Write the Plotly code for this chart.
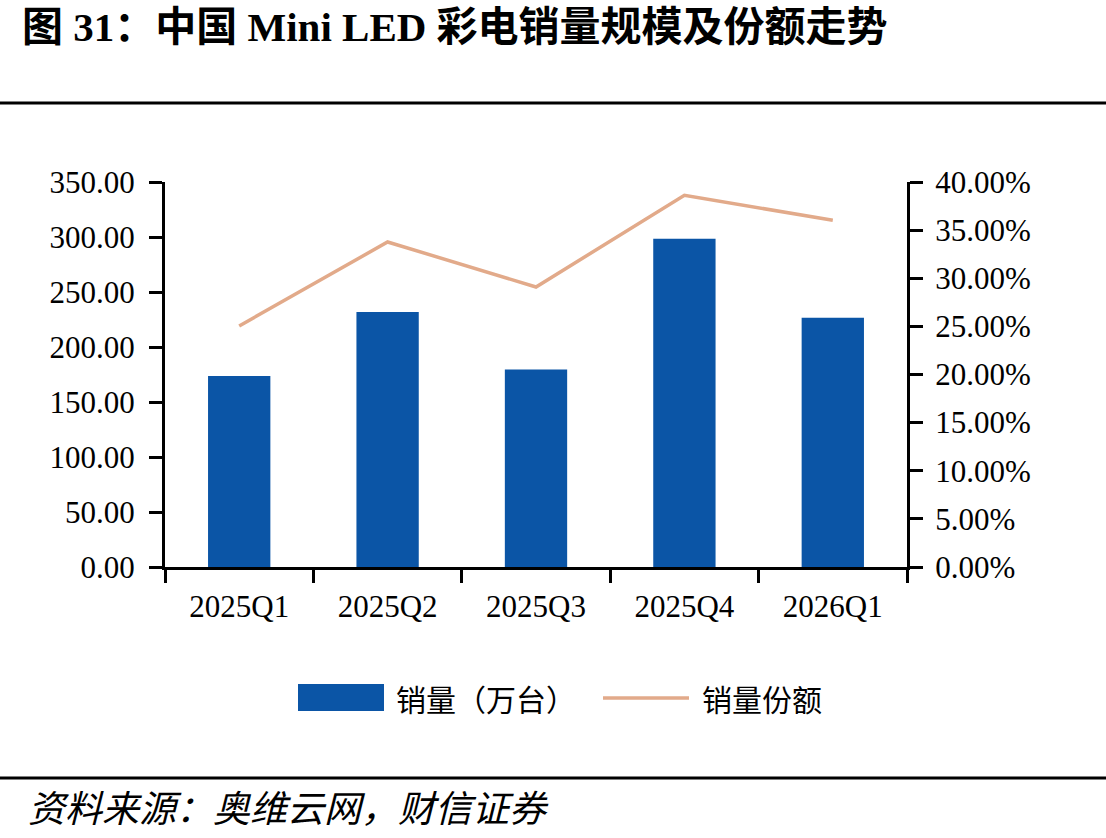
import plotly.graph_objects as go

categories = ["2025Q1", "2025Q2", "2025Q3", "2025Q4", "2026Q1"]
sales = [173.6, 231.8, 179.5, 298.5, 226.7]          # 销量（万台）
share = [0.2504, 0.3377, 0.2909, 0.3862, 0.3602]     # 销量份额
left_ticks = [0, 50, 100, 150, 200, 250, 300, 350]
right_ticks = [0, 0.05, 0.10, 0.15, 0.20, 0.25, 0.30, 0.35, 0.40]

W, H = 1106, 838
L, R, T, B = 165, 907, 182, 567

def px(x):
    return (x - L) / (R - L)

def py(y):
    return (B - y) / (B - T)

SERIF = "Liberation Serif, Noto Sans CJK SC, serif"
CJK = "Noto Sans CJK SC, sans-serif"
BAR_COLOR = "#0B55A6"
LINE_COLOR = "#E2AA8A"

fig = go.Figure()
fig.add_trace(go.Bar(
    x=categories, y=sales, name="销量（万台）",
    marker=dict(color=BAR_COLOR, line=dict(width=0)),
    yaxis="y", hoverinfo="skip",
))
fig.add_trace(go.Scatter(
    x=categories, y=share, name="销量份额", mode="lines",
    line=dict(color=LINE_COLOR, width=3.5),
    yaxis="y2", hoverinfo="skip",
))

axis_font = dict(family=SERIF, size=31, color="#000000")

fig.update_layout(
    width=W, height=H,
    margin=dict(l=L, r=W - R, t=T, b=H - B, pad=0),
    paper_bgcolor="white", plot_bgcolor="white",
    showlegend=False,
    bargap=0.58,
    xaxis=dict(
        type="category", tickson="boundaries",
        showline=True, linecolor="black", linewidth=3,
        ticks="outside", ticklen=13, tickwidth=3, tickcolor="black",
        tickfont=axis_font, ticklabelstandoff=10,
        showgrid=False, zeroline=False, fixedrange=True,
    ),
    yaxis=dict(
        range=[0, 350], tickvals=left_ticks, tickformat=".2f",
        showline=True, linecolor="black", linewidth=3,
        ticks="outside", ticklen=13, tickwidth=3, tickcolor="black",
        tickfont=axis_font, ticklabelstandoff=8,
        showgrid=False, zeroline=False, fixedrange=True,
    ),
    yaxis2=dict(
        range=[0, 0.40], tickvals=right_ticks, tickformat=".2%",
        overlaying="y", side="right",
        showline=True, linecolor="black", linewidth=3,
        ticks="outside", ticklen=13, tickwidth=3, tickcolor="black",
        tickfont=axis_font, ticklabelstandoff=6,
        showgrid=False, zeroline=False, fixedrange=True,
    ),
)

shapes = [
    # top rule
    dict(type="line", xref="paper", yref="paper",
         x0=px(0), x1=px(W), y0=py(103), y1=py(103),
         line=dict(color="black", width=3)),
    # bottom rule
    dict(type="line", xref="paper", yref="paper",
         x0=px(0), x1=px(W), y0=py(778), y1=py(778),
         line=dict(color="black", width=3)),
    # legend: bar key
    dict(type="rect", xref="paper", yref="paper",
         x0=px(298), x1=px(384), y0=py(711), y1=py(684),
         fillcolor=BAR_COLOR, line=dict(width=0)),
    # legend: line key
    dict(type="line", xref="paper", yref="paper",
         x0=px(603), x1=px(689), y0=py(698), y1=py(698),
         line=dict(color=LINE_COLOR, width=3.5)),
]

annotations = [
    dict(text="<b>图 31：中国 Mini LED 彩电销量规模及份额走势</b>",
         xref="paper", yref="paper", x=px(20), y=py(27),
         xanchor="left", yanchor="middle", showarrow=False,
         font=dict(family=SERIF, size=41, color="black")),
    dict(text="销量（万台）", xref="paper", yref="paper",
         x=px(394), y=py(698), xanchor="left", yanchor="middle",
         showarrow=False, font=dict(family=CJK, size=30, color="black")),
    dict(text="销量份额", xref="paper", yref="paper",
         x=px(700), y=py(698), xanchor="left", yanchor="middle",
         showarrow=False, font=dict(family=CJK, size=30, color="black")),
    dict(text="<i>资料来源：奥维云网，财信证券</i>", xref="paper", yref="paper",
         x=px(26), y=py(806), xanchor="left", yanchor="middle",
         showarrow=False, font=dict(family=CJK, size=37, color="black")),
]

fig.update_layout(shapes=shapes, annotations=annotations)
fig.write_html("out.html", config=dict(displayModeBar=False))
